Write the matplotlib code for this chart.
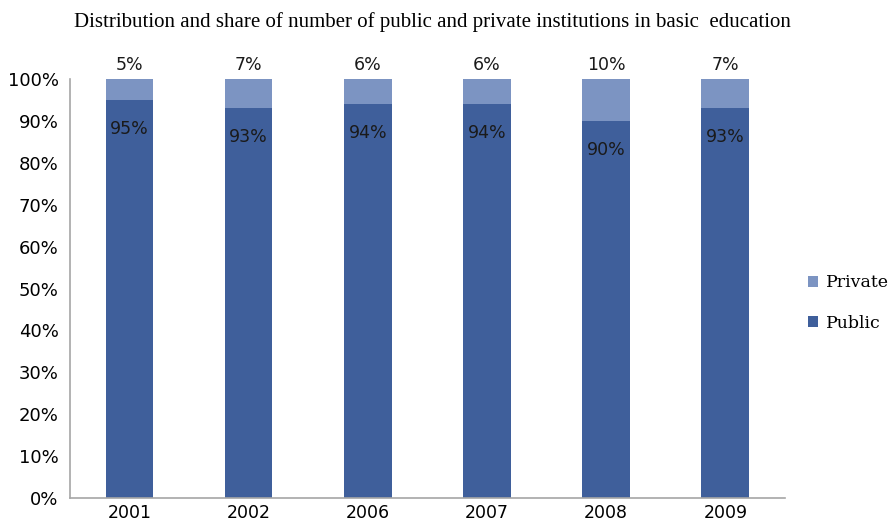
import matplotlib
matplotlib.use("Agg")
import matplotlib.pyplot as plt
import numpy as np

years = ["2001", "2002", "2006", "2007", "2008", "2009"]
public = [95, 93, 94, 94, 90, 93]
private = [5, 7, 6, 6, 10, 7]

PUBLIC_C = "#3f5f9b"
PRIVATE_C = "#7c94c2"
AXIS_C = "#a6a6a6"
SANS = "DejaVu Sans"
SERIF = "Liberation Serif"

fig = plt.figure(figsize=(8.95, 5.26), dpi=100)
ax = fig.add_axes([0.078, 0.053, 0.799, 0.797])

x = np.arange(len(years))
pub = np.array(public) / 100
pri = np.array(private) / 100
b_pub = ax.bar(x, pub, width=0.4, color=PUBLIC_C, label="Public", zorder=2)
b_pri = ax.bar(x, pri, width=0.4, bottom=pub, color=PRIVATE_C, label="Private", zorder=2)

# value labels: public inside the top of each bar, private above the stack
for xi, v, p in zip(x, pub, public):
    ax.annotate(f"{p}%", (xi, v), xytext=(0, -21), textcoords="offset points",
                ha="center", va="center", fontsize=12.5, family=SANS, color="#1a1a1a")
for xi, v, p in zip(x, pri, private):
    ax.annotate(f"{p}%", (xi, 1.0), xytext=(0, 10), textcoords="offset points",
                ha="center", va="center", fontsize=12.5, family=SANS, color="#1a1a1a")

ax.set_xlim(-0.5, len(years) - 0.5)
ax.set_ylim(0, 1.0)
ticks = np.arange(0, 1.01, 0.1)
ax.set_yticks(ticks)
ax.set_yticklabels([f"{int(round(t * 100))}%" for t in ticks], fontsize=13, family=SANS)
ax.set_xticks(x)
ax.set_xticklabels(years, fontsize=12.5, family=SANS)
ax.tick_params(length=0, pad=8)
ax.tick_params(axis="x", pad=4)
for s in ("top", "right"):
    ax.spines[s].set_visible(False)
for s in ("left", "bottom"):
    ax.spines[s].set_color(AXIS_C)
    ax.spines[s].set_linewidth(1.2)

ax.legend([b_pri, b_pub], ["Private", "Public"], loc="center left",
          bbox_to_anchor=(1.01, 0.465), frameon=False,
          prop={"family": "DejaVu Serif", "size": 12.5}, handlelength=0.6,
          handleheight=0.6, handletextpad=0.45, labelspacing=1.35)

fig.text(0.483, 0.958,
         "Distribution and share of number of public and private institutions in basic  education",
         ha="center", va="center", fontsize=15, family=SERIF)

fig.savefig("out.png", dpi=100)
